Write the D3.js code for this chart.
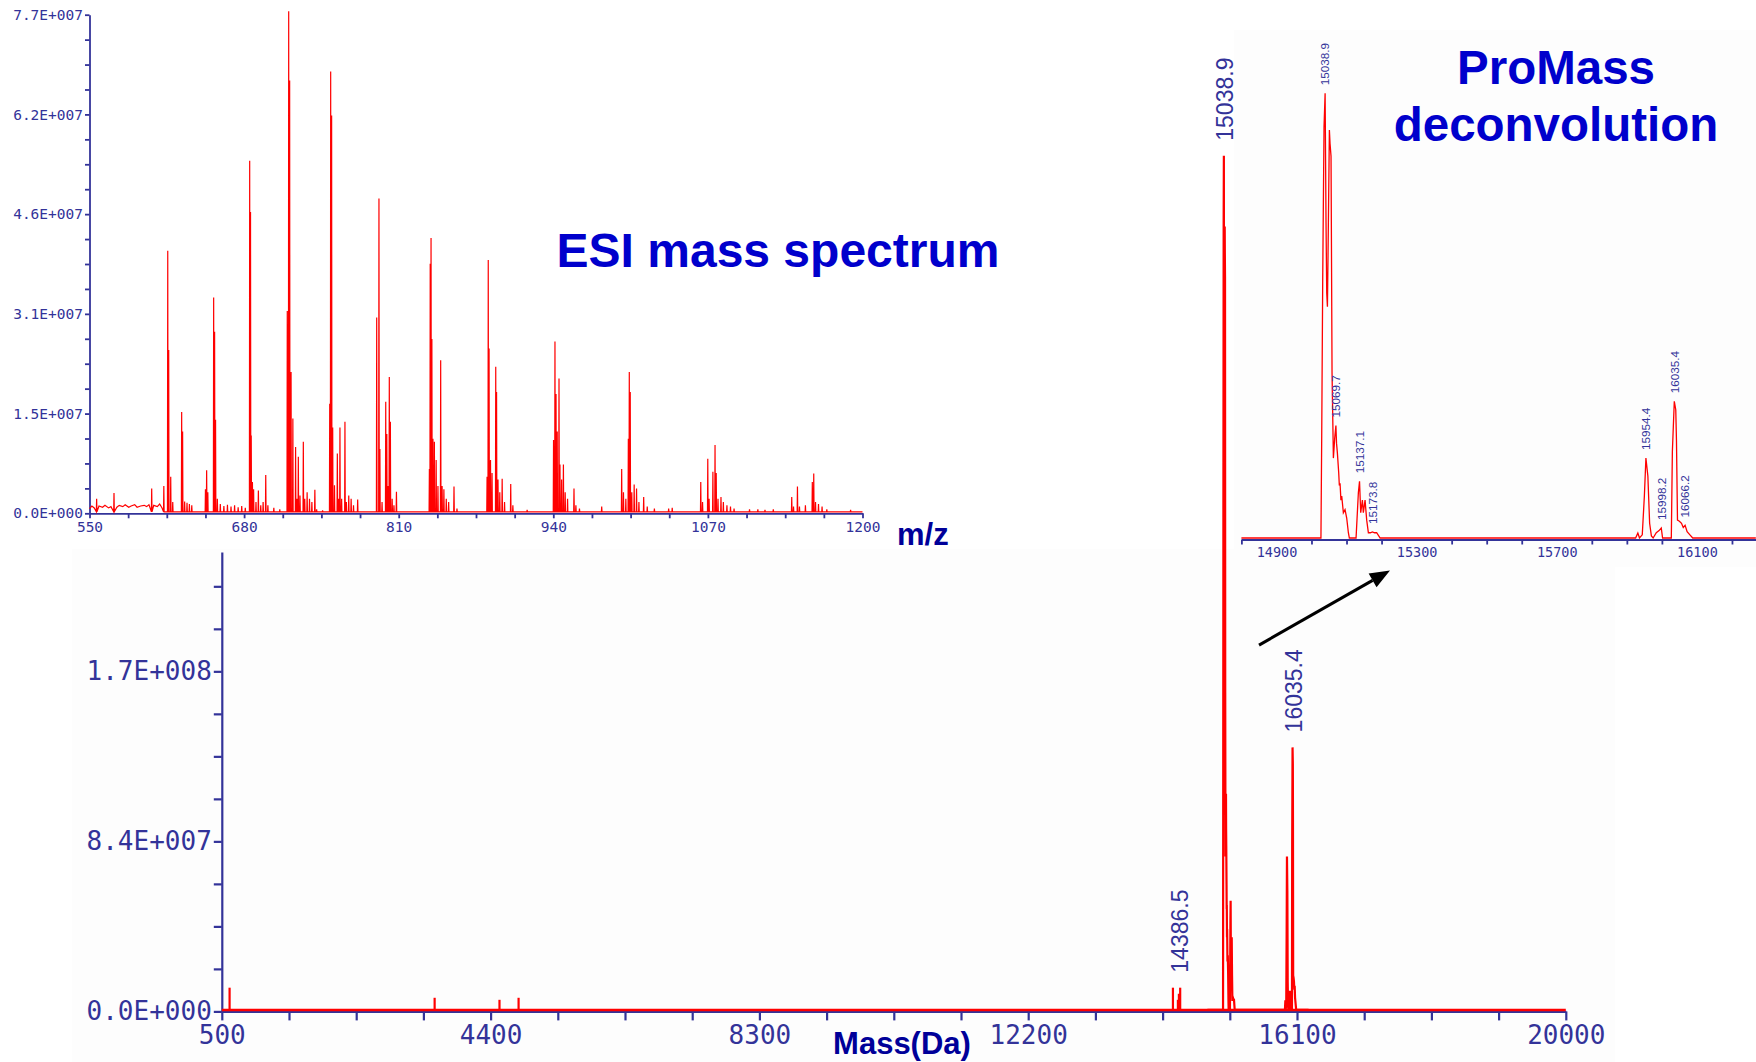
<!DOCTYPE html>
<html><head><meta charset="utf-8">
<script src="https://cdn.jsdelivr.net/npm/d3@7"></script>
<style>html,body{margin:0;padding:0;background:#fff;}svg{display:block;}</style>
</head><body>
<svg id="chart" width="1756" height="1062"></svg>
<script>
// ---------------- DATA ----------------
// ESI inset: tick labels
const esiXTicks = [550, 680, 810, 940, 1070, 1200];
const esiYTicks = [0, 1.54e7, 3.08e7, 4.62e7, 6.16e7, 7.7e7];
// ESI spectrum: centroid spikes [m/z, intensity]
const esiPeaks = [
  [556, 2.0e6], [570.6, 2.9e6], [602.3, 3.6e6], [612.5, 4.0e6],
  [615.8, 4.03e7], [616.6, 2.5e7], [618.3, 5.4e6], [620, 1.5e6],
  [627.5, 1.54e7], [628.3, 1.24e7], [630, 1.6e6], [632, 1.4e6], [634, 1.2e6], [636, 1.0e6],
  [647.5, 3.5e6], [648.5, 6.4e6], [649.5, 3.0e6], [654.4, 3.31e7], [655.2, 2.78e7], [656, 1.42e7],
  [657.5, 2.0e6], [660, 1.2e6], [663, 9e5], [666, 1.1e6], [669, 8e5], [672, 1.0e6], [675, 7e5], [678, 9e5], [681, 6e5],
  [684.7, 5.42e7], [685.4, 4.63e7], [686, 1.18e7], [687, 4.6e6], [688, 3.5e6], [690, 1.5e6], [692, 3.3e6],
  [694, 1.0e6], [696, 1.5e6], [698.2, 5.7e6], [700, 1.0e6], [705, 6e5], [710, 4e5],
  [716.3, 3.1e7], [717.5, 7.73e7], [718.3, 6.66e7], [719.5, 2.16e7], [721, 1.44e7], [723.3, 1.0e7], [724.5, 2.0e6],
  [725.6, 8.5e6], [727, 2.5e6], [729.8, 1.08e7], [731, 2.0e6], [733, 3.0e6], [735, 2.0e6], [737, 1.5e6], [739.5, 3.4e6], [741, 4e5], [746, 2e5],
  [752, 1.67e7], [752.8, 6.8e7], [753.6, 6.12e7], [754.5, 1.3e7], [756, 4.1e6], [758.4, 9.0e6], [759.5, 2.0e6],
  [760.6, 1.3e7], [762, 2.0e6], [764.8, 1.39e7], [766, 1.5e6], [768, 2.5e6], [770, 2.0e6], [772, 1.0e6], [775.5, 1.9e6],
  [791.5, 3.0e7], [793.4, 4.84e7], [794.2, 9.7e6], [796, 1.5e6], [799.1, 1.7e7], [800, 1.2e7], [801, 4.0e6],
  [802.1, 2.08e7], [803, 1.39e7], [804.5, 2.0e6], [806, 1.0e6], [808.1, 3.1e6],
  [835.8, 6.6e6], [836.5, 3.83e7], [837.2, 4.23e7], [837.9, 2.67e7], [838.8, 1.13e7], [840, 1.08e7], [841.5, 8.0e6], [843, 4.0e6],
  [845.3, 2.34e7], [846.5, 4.0e6], [848, 3.5e6], [850, 2.0e6], [852, 1.5e6], [856.5, 3.9e6], [859, 5e5],
  [884.3, 5.4e6], [885.3, 3.89e7], [886, 2.52e7], [887.2, 8.0e6], [888.5, 6.0e6], [891.6, 2.24e7], [892.3, 1.85e7],
  [893.5, 5.0e6], [895, 3.0e6], [897, 5.1e6], [899, 1.5e6], [904.2, 4.3e6], [906, 1.0e6], [918, 3e5],
  [940.2, 1.11e7], [941.4, 2.63e7], [942.3, 1.82e7], [943.3, 1.24e7], [944.8, 2.06e7], [945.6, 7.3e6], [947, 5.0e6],
  [948.5, 7.3e6], [950, 3.0e6], [952, 2.0e6], [957.4, 3.6e6], [959, 1.0e6], [962, 5e5], [980.7, 8e5],
  [997.5, 6.6e6], [999, 3.0e6], [1001, 2.0e6], [1003.1, 1.13e7], [1003.9, 2.16e7], [1004.7, 1.85e7], [1006, 3.0e6],
  [1008, 4.2e6], [1010, 3.6e6], [1012, 1.5e6], [1016, 2.3e6], [1019, 8e5], [1025, 5e5], [1037, 5e5], [1040, 6e5],
  [1064, 4.6e6], [1065.5, 1.5e6], [1069.9, 8.2e6], [1071, 2.0e6], [1074.2, 6.2e6], [1076, 1.03e7], [1077, 6.0e6],
  [1078.5, 2.0e6], [1081, 2.3e6], [1083, 1.5e6], [1086, 1.0e6], [1089, 8e5], [1092, 5e5],
  [1105, 4e5], [1112, 4e5], [1118, 3e5], [1125, 4e5],
  [1140.5, 2.3e6], [1142, 8e5], [1145.3, 3.9e6], [1147, 8e5], [1152, 1.0e6], [1157.8, 4.6e6], [1159, 5.9e6],
  [1160.5, 1.5e6], [1163, 1.2e6], [1166, 8e5], [1170, 4e5], [1190, 3e5]
];
// ESI baseline noise (profile points) in the low m/z region
const esiNoise = [
  [550, 5e5], [552, 9e5], [554, 6e5], [558, 9e5], [561, 7e5], [563, 1.0e6], [566, 6e5], [568, 8e5],
  [573, 7e5], [575, 1.0e6], [578, 8e5], [580, 1.1e6], [583, 7e5], [585, 9e5], [588, 1.1e6], [590, 7e5],
  [593, 9e5], [596, 1.0e6], [598, 8e5], [600, 1.1e6], [604, 1.0e6], [607, 8e5], [609, 1.2e6], [611, 6e5], [613, 0]
];

// Deconvoluted mass spectrum (ProMass): tick labels
const massXTicks = [500, 4400, 8300, 12200, 16100, 20000];
const massYTicks = [0, 8.42e7, 1.684e8];
const decXTicks = [14900, 15300, 15700, 16100];
// low-mass spikes in the deconvoluted spectrum [mass, intensity]
const massSpikes = [
  [613, 1.1e7], [3588, 6e6], [4529, 5e6], [4806, 6e6],
  [14300, 1.1e7], [14372, 5e6], [14386.5, 8e6], [14405, 1.1e7]
];
// deconvoluted profile [mass, intensity]
const deconvProfile = [
  [14800, 0], [15027, 0], [15029.2, 9.7e7], [15032.0, 2.44e8], [15035.8, 3.91e8], [15038.9, 4.23e8],
  [15041.5, 3.0e8], [15043.5, 2.33e8], [15045.5, 2.2e8], [15047.3, 2.71e8], [15051.1, 3.88e8], [15053.0, 3.75e8],
  [15055.8, 3.63e8], [15058.7, 1.57e8], [15062.5, 7.6e7], [15066.3, 9.5e7], [15069.7, 1.07e8], [15071.5, 9.0e7],
  [15073.9, 8.1e7], [15077.7, 6.2e7], [15079.5, 5.0e7], [15081.5, 5.2e7], [15084, 3.6e7], [15086.3, 4.0e7],
  [15091.0, 2.4e7], [15095.8, 2.7e7], [15100.5, 1.9e7], [15105.3, 5e6], [15108.1, 0],
  [15127.2, 0], [15133.8, 4.3e7], [15137.1, 5.4e7], [15140.5, 2.4e7], [15145.3, 3.6e7], [15148.0, 2.4e7],
  [15152.9, 3.6e7], [15157.6, 1.7e7], [15162.4, 5e6], [15168, 5e6], [15173.8, 5.7e6], [15180, 5e6], [15186, 5e6], [15196, 0],
  [15925, 0], [15931.4, 4.8e6], [15936, 0], [15944, 3e6], [15950, 4.0e7], [15954.4, 7.6e7], [15960, 5.9e7],
  [15965, 1.4e7], [15970, 2e6], [15975, 0], [15984, 5e6], [15992, 7e6], [15998.2, 9.5e6], [16002, 0],
  [16026.9, 0], [16029.9, 8.2e7], [16035.4, 1.3e8], [16039.6, 1.22e8], [16041.6, 9.3e7], [16044.5, 1.7e7],
  [16050, 1.6e7], [16056, 1.4e7], [16061, 1.0e7], [16066.2, 1.2e7], [16072, 6e6], [16080, 3e6], [16088, 0], [16268, 0]
];
const mainPeakLabels = [14386.5, 15038.9, 16035.4];
const decPeakLabels = [15038.9, 15069.7, 15137.1, 15173.8, 15954.4, 15998.2, 16035.4, 16066.2];

// ---------------- DRAW ----------------
const NAVY = "#333399", RED = "#ff0000";
const MONO = "'DejaVu Sans Mono', monospace";
const SANS = "'Liberation Sans', Arial, sans-serif";
const svg = d3.select("#chart");

function sci(v) {
  if (v === 0) return "0.0E+000";
  let e = Math.floor(Math.log10(v));
  let m = (v / Math.pow(10, e)).toFixed(1);
  if (m === "10.0") { m = "1.0"; e += 1; }
  return m + "E+" + String(e).padStart(3, "0");
}
const near = (list, d) => list.some(t => Math.abs(t - d) < Math.abs(t) * 1e-9 + 1e-9);
function styleAxis(g, size, family, w) {
  g.attr("font-family", null).attr("font-size", null);
  g.select(".domain").attr("stroke", NAVY).attr("stroke-width", w);
  g.selectAll(".tick line").attr("stroke", NAVY).attr("stroke-width", w);
  g.selectAll(".tick text").attr("fill", NAVY).attr("font-family", family).attr("font-size", size);
}

// backgrounds
svg.append("rect").attr("width", 1756).attr("height", 1062).attr("fill", "#ffffff");
svg.append("rect").attr("x", 72).attr("y", 549).attr("width", 1543).attr("height", 513).attr("fill", "#fdfdfd");
svg.append("rect").attr("x", 1234).attr("y", 30).attr("width", 522).attr("height", 537).attr("fill", "#fdfdfd");

// ===== main deconvoluted chart =====
const xM = d3.scaleLinear([500, 20000], [221.8, 1565.8]);
const yM = d3.scaleLinear([0, 2.275e8], [1011.4, 552]);

const mxMinor = d3.range(0, 21).map(i => 500 + i * 975);
const myMinor = d3.range(0, 11).map(i => i * 2.105e7);
const gMx = svg.append("g").attr("transform", `translate(0,${yM(0)})`)
  .call(d3.axisBottom(xM).tickValues(mxMinor).tickSizeInner(9).tickSizeOuter(0).tickPadding(5)
    .tickFormat(d => near(massXTicks, d) ? String(d) : ""));
styleAxis(gMx, 26, MONO, 2.2);
const gMy = svg.append("g").attr("transform", `translate(${xM(500)},0)`)
  .call(d3.axisLeft(yM).tickValues(myMinor).tickSizeInner(8).tickSizeOuter(0).tickPadding(2)
    .tickFormat(d => near(massYTicks, d) ? sci(d) : ""));
styleAxis(gMy, 26, MONO, 2.2);

const gMain = svg.append("g").attr("transform", "translate(0,-1.5)");
gMain.append("line").attr("x1", xM(500)).attr("x2", xM(20000)).attr("y1", yM(0)).attr("y2", yM(0))
  .attr("stroke", RED).attr("stroke-width", 2.5);
gMain.selectAll("line.spk").data(massSpikes).join("line").attr("class", "spk")
  .attr("x1", d => xM(d[0])).attr("x2", d => xM(d[0])).attr("y1", yM(0)).attr("y2", d => yM(d[1]))
  .attr("stroke", RED).attr("stroke-width", 2.2);
gMain.append("path").datum(deconvProfile)
  .attr("d", d3.line().x(d => xM(d[0])).y(d => yM(d[1])))
  .attr("fill", "none").attr("stroke", RED).attr("stroke-width", 2.2).attr("stroke-linejoin", "miter");

const allMain = massSpikes.concat(deconvProfile);
mainPeakLabels.forEach(m => {
  const top = d3.max(allMain.filter(d => Math.abs(d[0] - m) <= 30), d => d[1]);
  const x = xM(m) + 9, y = yM(top) - 1.5 - 15;
  svg.append("text").attr("transform", `translate(${x},${y}) rotate(-90)`)
    .attr("font-family", SANS).attr("font-size", 23).attr("fill", NAVY).text(m.toFixed(1));
});

svg.append("text").attr("x", 902).attr("y", 1054).attr("text-anchor", "middle")
  .attr("font-family", SANS).attr("font-weight", "bold").attr("font-size", 31).attr("fill", "#000099").text("Mass(Da)");

// ===== ESI inset =====
svg.append("rect").attr("x", 0).attr("y", 0).attr("width", 885).attr("height", 549).attr("fill", "#ffffff");
const xE = d3.scaleLinear([550, 1200], [89.5, 862.5]);
const yE = d3.scaleLinear([0, 7.7e7], [513.3, 14.7]);
const exMinor = d3.range(0, 21).map(i => 550 + i * 32.5);
const eyMinor = d3.range(0, 21).map(i => i * 3.85e6);
const gEx = svg.append("g").attr("transform", `translate(0,${yE(0)})`)
  .call(d3.axisBottom(xE).tickValues(exMinor).tickSizeInner(5).tickSizeOuter(0).tickPadding(3.5)
    .tickFormat(d => near(esiXTicks, d) ? String(d) : ""));
styleAxis(gEx, 14.5, MONO, 1.8);
const gEy = svg.append("g").attr("transform", `translate(${xE(550)},0)`)
  .call(d3.axisLeft(yE).tickValues(eyMinor).tickSizeInner(4.5).tickSizeOuter(0).tickPadding(2)
    .tickFormat(d => near(esiYTicks, d) ? sci(d) : ""));
styleAxis(gEy, 14.5, MONO, 1.8);

// build ESI path: noise as profile points, peaks as spikes
const esiItems = esiNoise.map(d => ({m: d[0], pts: [[d[0], d[1]]]}))
  .concat(esiPeaks.map(d => ({m: d[0], pts: [[d[0] - 0.25, 0], [d[0], d[1]], [d[0] + 0.25, 0]]})))
  .sort((a, b) => a.m - b.m);
const esiPts = [].concat(...esiItems.map(d => d.pts));
esiPts.push([1200, 0]);
svg.append("path").datum(esiPts).attr("transform", "translate(0,-1.5)")
  .attr("d", d3.line().x(d => xE(d[0])).y(d => yE(d[1])))
  .attr("fill", "none").attr("stroke", RED).attr("stroke-width", 1.2);

svg.append("text").attr("x", 778).attr("y", 266.5).attr("text-anchor", "middle")
  .attr("font-family", SANS).attr("font-weight", "bold").attr("font-size", 48).attr("fill", "#0000cc").text("ESI mass spectrum");
svg.append("text").attr("x", 897).attr("y", 545).attr("font-family", SANS).attr("font-weight", "bold")
  .attr("font-size", 31).attr("fill", "#000099").text("m/z");

// ===== ProMass inset =====
const xD = d3.scaleLinear([14800, 16268], [1241.4, 1755.8]);
const yD = d3.scaleLinear([0, 4.23e8], [539.5, 94.8]);
const dMinor = d3.range(0, 15).map(i => 14800 + i * 100).filter(d => !near(decXTicks, d));
const gDx = svg.append("g").attr("transform", `translate(0,${yD(0)})`)
  .call(d3.axisBottom(xD).tickValues(dMinor).tickSizeInner(5).tickSizeOuter(0).tickFormat(""));
styleAxis(gDx, 13.5, MONO, 1.8);
const gDl = svg.append("g").attr("transform", `translate(0,${yD(0)})`)
  .call(d3.axisBottom(xD).tickValues(decXTicks).tickSize(0).tickPadding(8).tickFormat(d => String(d)));
styleAxis(gDl, 13.5, MONO, 1.8);
gDl.select(".domain").remove();

svg.append("path").datum(deconvProfile).attr("transform", "translate(0,-1.5)")
  .attr("d", d3.line().x(d => xD(d[0])).y(d => yD(d[1])))
  .attr("fill", "none").attr("stroke", RED).attr("stroke-width", 1.3);

decPeakLabels.forEach(m => {
  const p = deconvProfile.find(d => Math.abs(d[0] - m) < 0.01);
  const x = xD(m) + 4.3, y = yD(p[1]) - 1.5 - 8;
  svg.append("text").attr("transform", `translate(${x},${y}) rotate(-90)`)
    .attr("font-family", SANS).attr("font-size", 11.7).attr("fill", NAVY).text(m.toFixed(1));
});

svg.append("text").attr("x", 1556).attr("y", 84).attr("text-anchor", "middle")
  .attr("font-family", SANS).attr("font-weight", "bold").attr("font-size", 47.5).attr("fill", "#0000cc").text("ProMass");
svg.append("text").attr("x", 1556).attr("y", 141).attr("text-anchor", "middle")
  .attr("font-family", SANS).attr("font-weight", "bold").attr("font-size", 47.5).attr("fill", "#0000cc").text("deconvolution");

// arrow from main chart to inset
const a0 = [xM(15549), yM(1.814e8)], a1 = [xD(15224), yD(0) + 31];
const ang = Math.atan2(a1[1] - a0[1], a1[0] - a0[0]);
const hl = 20, hw = 8;
const base = [a1[0] - hl * Math.cos(ang), a1[1] - hl * Math.sin(ang)];
svg.append("line").attr("x1", a0[0]).attr("y1", a0[1]).attr("x2", base[0]).attr("y2", base[1])
  .attr("stroke", "#000").attr("stroke-width", 3);
svg.append("path").attr("d", d3.line()([
  a1,
  [base[0] + hw * Math.sin(ang), base[1] - hw * Math.cos(ang)],
  [base[0] - hw * Math.sin(ang), base[1] + hw * Math.cos(ang)]
]) + "Z").attr("fill", "#000");
</script>
</body></html>
